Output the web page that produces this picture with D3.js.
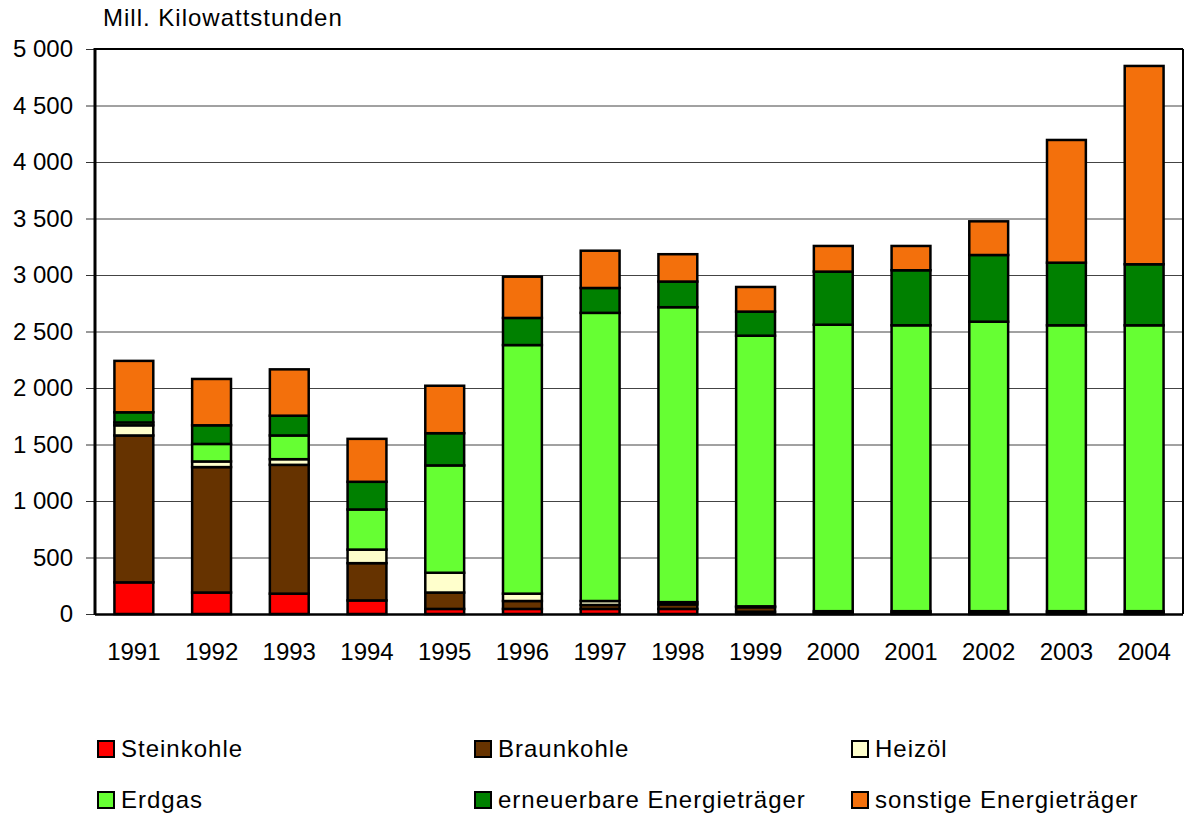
<!DOCTYPE html>
<html>
<head>
<meta charset="utf-8">
<script src="https://cdn.jsdelivr.net/npm/d3@7"></script>
<style>
  body { margin: 0; background: #fff; }
  svg { display: block; font-family: "Liberation Sans", Arial, sans-serif; }
</style>
</head>
<body>
<svg id="chart" width="1185" height="818"></svg>
<script>
// data
const years = ['1991','1992','1993','1994','1995','1996','1997','1998','1999','2000','2001','2002','2003','2004']
const steinkohle = [280, 190, 180, 120, 45, 45, 45, 45, 20, 10, 10, 10, 10, 10]
const braunkohle = [1300, 1110, 1140, 330, 145, 70, 35, 40, 40, 15, 15, 15, 15, 15]
const heizoel = [90, 50, 50, 120, 175, 65, 35, 20, 8, 0, 0, 0, 0, 0]
const erdgas = [25, 155, 210, 355, 950, 2200, 2550, 2610, 2395, 2535, 2530, 2562, 2530, 2530]
const erneuerbar = [90, 165, 175, 245, 285, 240, 220, 227, 213, 470, 487, 590, 554, 540]
const sonstige = [455, 410, 410, 380, 420, 365, 330, 242, 218, 227, 215, 298, 1086, 1755]
const seriesNames = ['Steinkohle', 'Braunkohle', 'Heizöl', 'Erdgas', 'erneuerbare Energieträger', 'sonstige Energieträger']
const yTicks = [0, 500, 1000, 1500, 2000, 2500, 3000, 3500, 4000, 4500, 5000]

const colors = ['#ff0000', '#663300', '#ffffcc', '#66ff33', '#008000', '#f3700c']
const seriesValues = [steinkohle, braunkohle, heizoel, erdgas, erneuerbar, sonstige]

const rows = years.map((yr, i) => {
    const r = { year: yr }
    seriesNames.forEach((n, k) => { r[n] = seriesValues[k][i] })
    return r
})
const stacked = d3.stack().keys(seriesNames)(rows)

const svg = d3.select('#chart')
const plotLeft = 95, plotRight = 1183, plotTop = 49, plotBottom = 614

const x = d3.scaleBand().domain(years).range([plotLeft, plotRight]).paddingInner(0.5).paddingOuter(0.25)
const y = d3.scaleLinear().domain([0, 5000]).range([plotBottom, plotTop])

const de = d3.formatLocale({ decimal: ',', thousands: '\u00a0', grouping: [3], currency: ['', ''] })
const fmt = de.format(',d')

// gridlines
svg.append('g')
    .selectAll('line')
    .data(yTicks.filter(t => t > 0 && t < 5000))
    .enter()
    .append('line')
    .attr('x1', plotLeft).attr('x2', plotRight)
    .attr('y1', d => y(d) + 0.5).attr('y2', d => y(d) + 0.5)
    .attr('stroke', '#444').attr('stroke-width', 1)

// y axis
const yAxis = svg.append('g')
    .attr('transform', 'translate(' + plotLeft + ',0)')
    .call(d3.axisLeft(y).tickValues(yTicks).tickFormat(fmt).tickSize(9).tickPadding(13))
yAxis.select('.domain').remove()
yAxis.selectAll('.tick line').attr('stroke', '#333').attr('stroke-width', 1)
yAxis.selectAll('.tick text')
    .attr('font-size', 24).attr('fill', '#000')
    .attr('font-family', '"Liberation Sans", Arial, sans-serif')

// bars
svg.append('g')
    .selectAll('g')
    .data(stacked)
    .enter()
    .append('g')
    .attr('fill', (d, i) => colors[i])
    .selectAll('rect')
    .data(d => d)
    .enter()
    .append('rect')
    .attr('x', d => x(d.data.year))
    .attr('y', d => y(d[1]))
    .attr('width', x.bandwidth())
    .attr('height', d => y(d[0]) - y(d[1]))
    .attr('stroke', '#000')
    .attr('stroke-width', 2.5)
    .attr('stroke-opacity', d => d[1] - d[0] > 0 ? 1 : 0)

// plot frame
svg.append('line').attr('x1', plotLeft).attr('x2', plotRight).attr('y1', plotTop).attr('y2', plotTop)
    .attr('stroke', '#000').attr('stroke-width', 2)
svg.append('line').attr('x1', plotRight).attr('x2', plotRight).attr('y1', plotTop).attr('y2', plotBottom)
    .attr('stroke', '#000').attr('stroke-width', 2)
svg.append('line').attr('x1', plotLeft).attr('x2', plotLeft).attr('y1', plotTop - 1).attr('y2', plotBottom + 1)
    .attr('stroke', '#000').attr('stroke-width', 3)
svg.append('line').attr('x1', plotLeft).attr('x2', plotRight).attr('y1', plotBottom + 0.5).attr('y2', plotBottom + 0.5)
    .attr('stroke', '#000').attr('stroke-width', 2.5)

// x labels
svg.append('g')
    .selectAll('text')
    .data(years)
    .enter()
    .append('text')
    .attr('x', d => x(d) + x.bandwidth() / 2)
    .attr('y', 660)
    .attr('text-anchor', 'middle')
    .attr('font-size', 24)
    .text(d => d)

// unit label
svg.append('text')
    .attr('x', 103).attr('y', 26)
    .attr('font-size', 24).attr('letter-spacing', 1)
    .text('Mill. Kilowattstunden')

// legend
const legendX = [97, 474, 851]
const legendY = [740, 791]
const legend = svg.append('g')
    .selectAll('g')
    .data(seriesNames)
    .enter()
    .append('g')
    .attr('transform', (d, i) => 'translate(' + legendX[i % 3] + ',' + legendY[Math.floor(i / 3)] + ')')
legend.append('rect')
    .attr('x', 1).attr('y', 1).attr('width', 16).attr('height', 16)
    .attr('fill', (d, i) => colors[i])
    .attr('stroke', '#000').attr('stroke-width', 2)
legend.append('text')
    .attr('x', 24).attr('y', 17)
    .attr('font-size', 24).attr('letter-spacing', 1)
    .text(d => d)
</script>
</body>
</html>
